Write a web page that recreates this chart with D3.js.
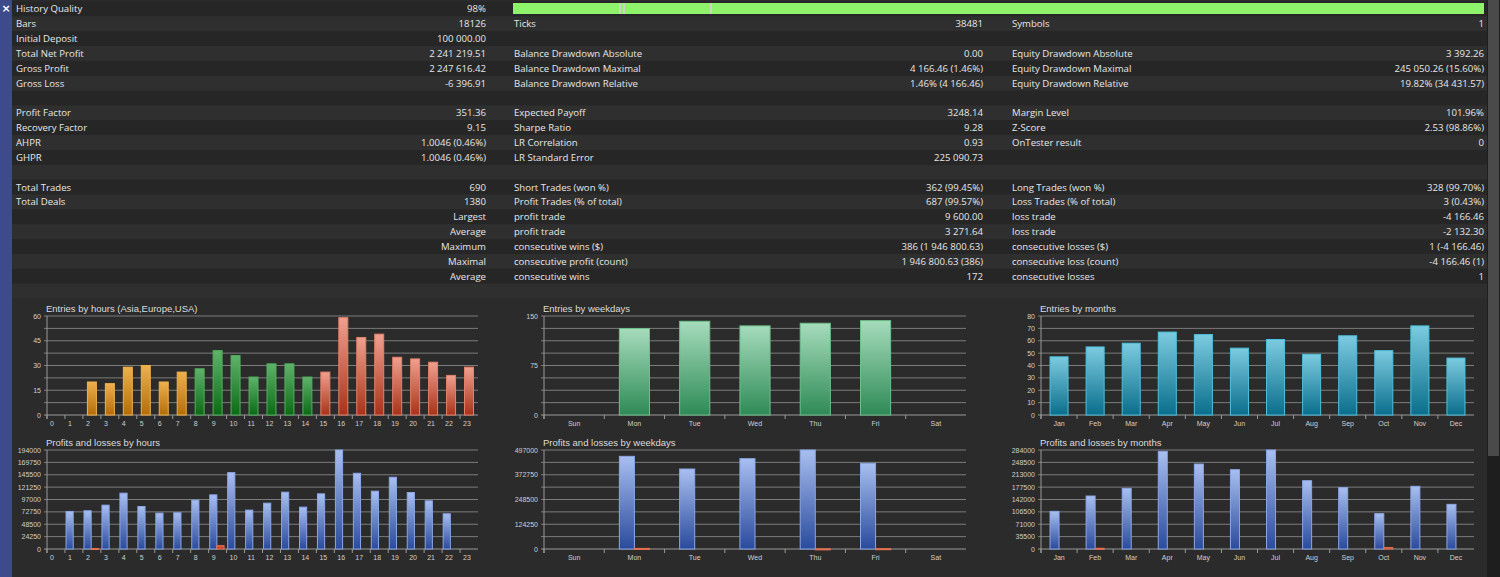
<!DOCTYPE html>
<html><head><meta charset="utf-8">
<script src="https://cdn.jsdelivr.net/npm/d3@7"></script>
<style>
body{margin:0;background:#2b2b2b;overflow:hidden}
svg{display:block}
</style></head><body>
<script>
var width = 1500, height = 577;

// report table rows: [label1, value1, label2, value2, label3, value3, rightAlignLabel1]
var rows = [
  ["History Quality","98%","","","",""],
  ["Bars","18126","Ticks","38481","Symbols","1"],
  ["Initial Deposit","100 000.00","","","",""],
  ["Total Net Profit","2 241 219.51","Balance Drawdown Absolute","0.00","Equity Drawdown Absolute","3 392.26"],
  ["Gross Profit","2 247 616.42","Balance Drawdown Maximal","4 166.46 (1.46%)","Equity Drawdown Maximal","245 050.26 (15.60%)"],
  ["Gross Loss","-6 396.91","Balance Drawdown Relative","1.46% (4 166.46)","Equity Drawdown Relative","19.82% (34 431.57)"],
  ["","","","","",""],
  ["Profit Factor","351.36","Expected Payoff","3248.14","Margin Level","101.96%"],
  ["Recovery Factor","9.15","Sharpe Ratio","9.28","Z-Score","2.53 (98.86%)"],
  ["AHPR","1.0046 (0.46%)","LR Correlation","0.93","OnTester result","0"],
  ["GHPR","1.0046 (0.46%)","LR Standard Error","225 090.73","",""],
  ["","","","","",""],
  ["Total Trades","690","Short Trades (won %)","362 (99.45%)","Long Trades (won %)","328 (99.70%)"],
  ["Total Deals","1380","Profit Trades (% of total)","687 (99.57%)","Loss Trades (% of total)","3 (0.43%)"],
  ["Largest","","profit trade","9 600.00","loss trade","-4 166.46",1],
  ["Average","","profit trade","3 271.64","loss trade","-2 132.30",1],
  ["Maximum","","consecutive wins ($)","386 (1 946 800.63)","consecutive losses ($)","1 (-4 166.46)",1],
  ["Maximal","","consecutive profit (count)","1 946 800.63 (386)","consecutive loss (count)","-4 166.46 (1)",1],
  ["Average","","consecutive wins","172","consecutive losses","1",1],
  ["","","","","",""]
];

var hours = d3.range(24).map(String);
var hourEntries = [0,0,20,19,29,30,20,26,28,39,36,23,31,31,23,26,59,47,49,35,34,32,24,29];
var hourProfit = [0,73600,74900,85900,109400,83300,70300,71000,95700,106100,149700,76200,89800,111300,82000,108100,194000,148400,113300,140600,110700,94400,69000,0];
var hourLoss = [0,0,1000,0,0,0,0,0,0,6500,0,0,0,0,0,0,0,0,0,0,0,0,0,0];

var weekdays = ["Sun","Mon","Tue","Wed","Thu","Fri","Sat"];
var dayEntries = [0,131,142,135,139,143,0];
var dayProfit = [0,465200,401600,453500,497000,430200,0];
var dayLoss = [0,3000,0,0,600,1500,0];

var months = ["Jan","Feb","Mar","Apr","May","Jun","Jul","Aug","Sep","Oct","Nov","Dec"];
var monthEntries = [47,55,58,67,65,54,61,49,64,52,72,46];
var monthProfit = [108000,152000,174000,280000,243800,227600,284000,196000,176000,101400,179800,128100];
var monthLoss = [0,2000,0,0,0,0,0,0,0,4000,0,0];

var svg = d3.select("body").append("svg").attr("width", width).attr("height", height);
var defs = svg.append("defs");

svg.append("rect").attr("width", width).attr("height", height).attr("fill", "#2b2b2b");

// table
var rowH = 14.85, row0 = 1.5;
var tfont = "'Open Sans',sans-serif";
var tbl = svg.append("g").attr("font-family", tfont).attr("font-size", 9.6).attr("fill", "#e6e6e6");
rows.forEach(function(r, i){
  var y = row0 + i*rowH;
  tbl.append("rect").attr("x", 12).attr("y", y).attr("width", 1475).attr("height", rowH)
     .attr("fill", i % 2 ? "#2f2f2f" : "#262626");
  var ty = y + rowH/2 + 3.4;
  if (r[6]) tbl.append("text").attr("x", 486).attr("y", ty).attr("text-anchor","end").text(r[0]);
  else tbl.append("text").attr("x", 16).attr("y", ty).text(r[0]);
  tbl.append("text").attr("x", 486).attr("y", ty).attr("text-anchor","end").text(r[1]);
  tbl.append("text").attr("x", 514).attr("y", ty).text(r[2]);
  tbl.append("text").attr("x", 983).attr("y", ty).attr("text-anchor","end").text(r[3]);
  tbl.append("text").attr("x", 1012).attr("y", ty).text(r[4]);
  tbl.append("text").attr("x", 1484).attr("y", ty).attr("text-anchor","end").text(r[5]);
});
// history quality bar
svg.append("rect").attr("x", 513).attr("y", 3).attr("width", 971).attr("height", 11).attr("fill", "#8ef26b");
[619,623,710].forEach(function(x){
  svg.append("rect").attr("x", x).attr("y", 3).attr("width", 2).attr("height", 11).attr("fill", "#c8d8c0");
});

// left strip and scrollbar
svg.append("rect").attr("x", 0).attr("y", 0).attr("width", 12).attr("height", height).attr("fill", "#3d4b8c");
svg.append("text").attr("x", 6).attr("y", 12).attr("text-anchor","middle").attr("fill","#fff")
   .attr("font-family","DejaVu Sans").attr("font-size", 11).attr("font-weight","bold").text("×");
svg.append("rect").attr("x", 1487).attr("y", 0).attr("width", 13).attr("height", height).attr("fill", "#1e1e1e");
svg.append("rect").attr("x", 1488).attr("y", 0).attr("width", 11).attr("height", 456).attr("fill", "#4a4a4a");

function grad(id, c1, c2){
  var g = defs.append("linearGradient").attr("id", id).attr("x1",0).attr("y1",0).attr("x2",0).attr("y2",1);
  g.append("stop").attr("offset","0%").attr("stop-color", c1);
  g.append("stop").attr("offset","100%").attr("stop-color", c2);
}
grad("gOrange", "#eeb04e", "#b36d08");
grad("gGreen", "#5fb36b", "#0b6a14");
grad("gRed", "#f0a090", "#a83218");
grad("gTeal", "#a6dcbc", "#2e8a56");
grad("gCyan", "#7ccbe0", "#0a6e8c");
grad("gBlue", "#a8bff0", "#2a4a9c");
grad("gLoss", "#e06048", "#b83018");

function chart(o){
  var g = svg.append("g").attr("font-family", "'Liberation Sans','Arial',sans-serif");
  var x = d3.scaleBand().domain(o.cats).range([o.x0, o.x1]);
  var y = d3.scaleLinear().domain([0, o.max]).range([o.y1, o.y0]);
  g.append("text").attr("x", o.x0 - 1).attr("y", o.y0 - 4).attr("fill", "#dcdcdc")
   .attr("font-size", 9.5).text(o.title);
  // gridlines
  d3.range(9).forEach(function(i){
    var v = o.max * i / 8;
    g.append("line").attr("x1", o.x0 - 3).attr("x2", o.x1).attr("y1", y(v)).attr("y2", y(v))
      .attr("stroke", i === 0 ? "#9a9a9a" : "#7c7c7c").attr("stroke-width", 1);
    if (i % o.labelEvery === 0)
      g.append("text").attr("x", o.x0 - 6).attr("y", y(v) + 2.5).attr("text-anchor","end")
        .attr("fill","#cfcfcf").attr("font-size", 7).text(Math.round(v));
  });
  g.append("line").attr("x1", o.x0).attr("x2", o.x0).attr("y1", o.y0).attr("y2", o.y1 + 4).attr("stroke", "#9a9a9a");
  var bw = x.bandwidth();
  o.cats.forEach(function(c){
    g.append("line").attr("x1", x(c)).attr("x2", x(c)).attr("y1", o.y1).attr("y2", o.y1 + 4).attr("stroke", "#9a9a9a");
    g.append("text").attr("x", o.hours ? x(c) + 3 : x(c) + bw/2).attr("y", o.y1 + 11)
     .attr("text-anchor", o.hours ? "start" : "middle").attr("fill","#cfcfcf").attr("font-size", 7).text(c);
  });
  function bars(vals, fill, stroke, off, w){
    g.selectAll(null).data(vals.map(function(v,i){return {c:o.cats[i], v:v, i:i};}).filter(function(d){return d.v > 0;}))
      .join("rect")
      .attr("x", function(d){ return x(d.c) + bw*off; })
      .attr("width", bw*w)
      .attr("y", function(d){ return y(d.v); })
      .attr("height", function(d){ return Math.max(1, o.y1 - y(d.v)); })
      .attr("fill", typeof fill === "function" ? function(d){ return fill(d.i); } : fill)
      .attr("stroke", typeof stroke === "function" ? function(d){ return stroke(d.i); } : stroke)
      .attr("stroke-width", 1);
  }
  if (o.loss) {
    bars(o.vals, "url(#gBlue)", "#8aa6e6", o.hours ? 0.06 : 0.25, o.hours ? 0.4 : 0.25);
    bars(o.loss, "url(#gLoss)", "#e87050", o.hours ? 0.46 : 0.5, o.hours ? 0.4 : 0.25);
  } else {
    bars(o.vals, o.fill, o.stroke, 0.25, 0.5);
  }
}

var hourFill = function(i){ return i < 8 ? "url(#gOrange)" : i < 15 ? "url(#gGreen)" : "url(#gRed)"; };
var hourStroke = function(i){ return i < 8 ? "#f0b24a" : i < 15 ? "#52b05c" : "#e6806a"; };

var c1 = [47, 478], c2 = [544, 966], c3 = [1041, 1474];
var topY = [316, 415], botY = [450, 549];

chart({title:"Entries by hours (Asia,Europe,USA)", cats:hours, vals:hourEntries, max:60, labelEvery:2,
  x0:c1[0], x1:c1[1], y0:topY[0], y1:topY[1], fill:hourFill, stroke:hourStroke, hours:true});
chart({title:"Profits and losses by hours", cats:hours, vals:hourProfit, loss:hourLoss, max:194000, labelEvery:1,
  x0:c1[0], x1:c1[1], y0:botY[0], y1:botY[1], hours:true});
chart({title:"Entries by weekdays", cats:weekdays, vals:dayEntries, max:150, labelEvery:4,
  x0:c2[0], x1:c2[1], y0:topY[0], y1:topY[1], fill:"url(#gTeal)", stroke:"#6cc08c"});
chart({title:"Profits and losses by weekdays", cats:weekdays, vals:dayProfit, loss:dayLoss, max:497000, labelEvery:2,
  x0:c2[0], x1:c2[1], y0:botY[0], y1:botY[1]});
chart({title:"Entries by months", cats:months, vals:monthEntries, max:80, labelEvery:1,
  x0:c3[0], x1:c3[1], y0:topY[0], y1:topY[1], fill:"url(#gCyan)", stroke:"#4cc0dc"});
chart({title:"Profits and losses by months", cats:months, vals:monthProfit, loss:monthLoss, max:284000, labelEvery:1,
  x0:c3[0], x1:c3[1], y0:botY[0], y1:botY[1]});
</script>
</body></html>
